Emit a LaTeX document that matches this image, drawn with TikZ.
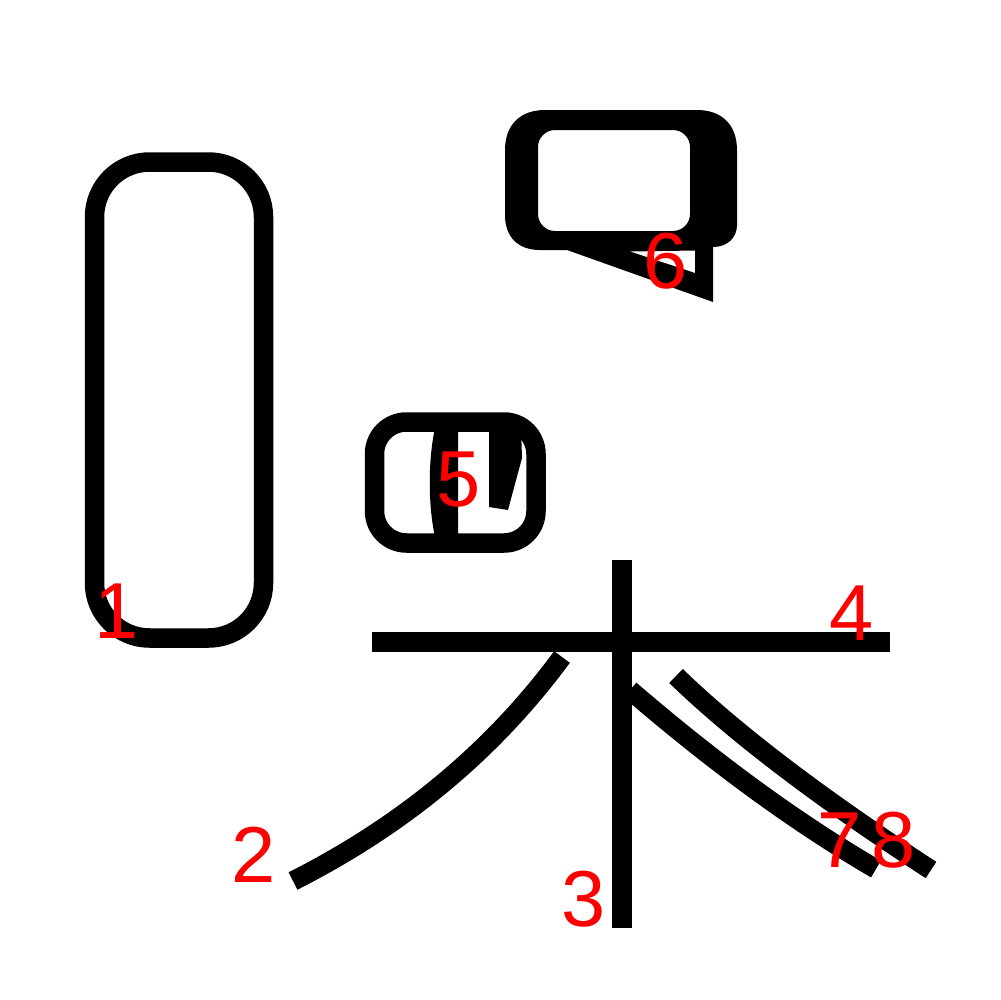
\documentclass[tikz,border=0pt]{standalone}
\usepackage{fontspec}
\newfontfamily\labfont{Liberation Sans}
\begin{document}
\begin{tikzpicture}[x=0.1mm,y=-0.1mm,
  strokeline/.style={draw=black,line width=1.95mm,line cap=butt},
  numlabel/.style={text=red,font=\labfont\fontsize{22.6}{27}\selectfont,inner sep=0pt,anchor=center}]
\useasboundingbox[fill=white] (0,0) rectangle (1000,1000);
% stroke 1
\draw[strokeline,rounded corners=5.5mm] (94.5,162) rectangle (263.5,638);
% stroke 2
\draw[strokeline] (562,657) .. controls (493.3,750.3) and (403.7,825) .. (293,881);
% stroke 3
\draw[strokeline] (622,560) -- (622,928);
% stroke 4
\draw[strokeline] (372,642) -- (890,642);
% stroke 5
\draw[strokeline,rounded corners=3.2mm] (374.5,422) rectangle (536,543);
\fill[black] (435,428) .. controls (428,460) and (428,505) .. (435,537) -- (458,537) -- (458,428) -- cycle;
\fill[black] (489,428) -- (489,507) -- (508,510) -- (522,458) -- (521,428) -- cycle;
% stroke 6
\fill[black,even odd rule]
  (545,110) -- (697,110) .. controls (722,110) and (737,125) .. (737,150)
  -- (737,225) .. controls (737,238) and (727,247) .. (713,247)
  -- (713,302) -- (567,250) -- (540,250)
  .. controls (518,250) and (505,237) .. (505,215)
  -- (505,150) .. controls (505,125) and (520,110) .. (545,110) -- cycle
  {[rounded corners=1.7mm] (538,130) rectangle (690,231)}
  (630,251.5) -- (695,250.5) -- (695,273) -- cycle;
% strokes 7 and 8
\draw[strokeline] (630,690) .. controls (716.3,764.3) and (798.3,823.9) .. (876,869);
\draw[strokeline] (676,676) .. controls (735.3,733.3) and (820.3,798) .. (931,870);
% labels
\node[numlabel] (n1) at (117,611) {1};
\node[numlabel] (n2) at (253.5,854.5) {2};
\node[numlabel] (n3) at (584,899) {3};
\node[numlabel] (n4) at (852,613.5) {4};
\node[numlabel] (n5) at (459,480) {5};
\node[numlabel] (n6) at (666,261) {6};
\node[numlabel] (n7) at (840,840) {7};
\node[numlabel] (n8) at (894,840) {8};
\end{tikzpicture}
\end{document}
